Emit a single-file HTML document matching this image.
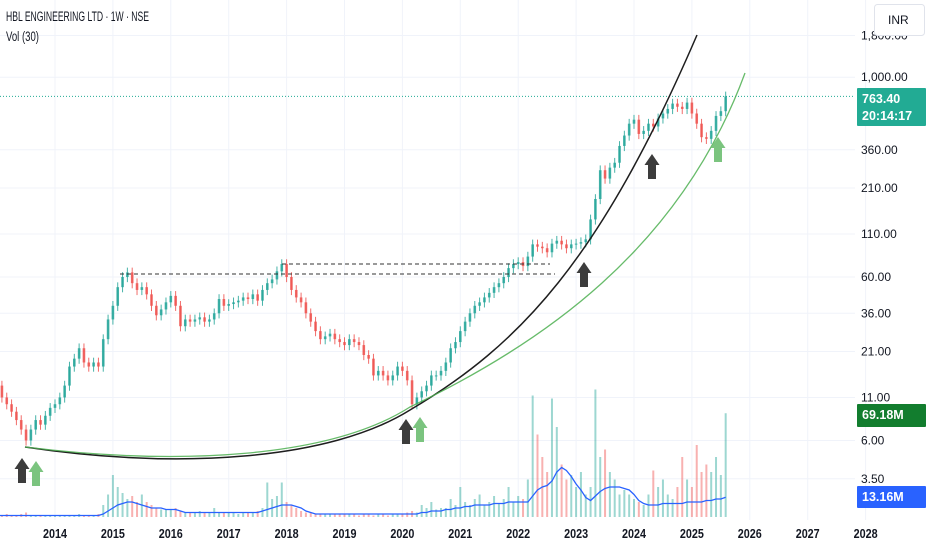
<!DOCTYPE html>
<html><head><meta charset="utf-8">
<style>
html,body{margin:0;padding:0;background:#fff;}
#wrap{position:relative;width:932px;height:550px;overflow:hidden;font-family:"Liberation Sans Narrow","Liberation Sans",sans-serif;}
svg{position:absolute;left:0;top:0;}
</style></head>
<body>
<div id="wrap">
<svg id="chart" width="932" height="550"></svg>
</div>
<script>
// ---- data (monthly, starting Jan 2013) ----
const startYear = 2013;
const closes = [
13,11,10,9,8,7,6,7,8,7.5,8.5,9.5,
10,11,13,17,19,22,18,17,18,17,25,33,
40,52,60,64,55,50,52,47,40,35,38,42,
46,40,30,33,32,33,34,32,33,36,44,40,
41,42,43,45,44,47,43,50,55,58,65,72,
60,50,45,42,36,32,28,25,26,27,25,24,
23,25,24,23,20,19,15,16,15,14,15,17,
16,14,10,11,12,13,15,15,16,18,22,24,
28,32,36,40,42,45,48,52,55,60,68,72,
74,70,80,95,92,90,85,96,100,95,90,95,
96,98,102,135,180,270,240,280,300,380,440,520,
550,450,470,520,500,560,600,640,690,660,640,700,
600,520,430,420,470,580,620,763.4];
const volumes = [
1,1,2,1,1,2,3,1,1,1,1,1,
1,1,1,1,1,2,1,1,1,2,8,15,
28,20,16,12,14,10,15,10,8,6,5,5,
5,6,4,3,3,3,4,3,3,6,3,3,
3,3,2,3,3,3,4,6,23,12,14,23,
10,8,6,4,3,3,2,2,2,2,2,2,
2,2,2,1,2,2,1,2,2,1,2,2,
2,3,4,3,8,6,10,5,6,6,12,8,
20,10,8,12,15,8,10,14,9,12,20,10,
14,12,25,81,55,40,30,79,60,35,25,28,
20,30,15,20,85,40,45,30,25,15,18,15,
12,10,8,15,31,20,25,15,12,20,40,25,
20,48,30,35,30,40,28,69.18];
const volMA = [
1,1,1,1,1,1,1,1,1,1,1,1,
1,1,1,1,1,1,1,1,1,1,2,4,
6,8,9,10,10,9,8,7,6,6,6,5,
5,5,4,3,3,3,3,3,3,3,3,3,
3,3,3,3,3,3,3,4,5,6,7,8,
8,8,7,6,4,3,2,2,2,2,2,2,
2,2,2,2,2,2,2,2,2,2,2,2,
2,2,2,2,3,3,4,4,4,5,5,6,
6,7,7,8,8,8,8,9,9,9,10,10,
10,10,10,14,18,20,21,24,30,33,31,27,
22,18,13,11,14,17,19,20,20,20,19,18,
15,11,9,8,8,8,9,9,9,9,9,10,
10,10,10,11,11,12,12,13.16];
const priceTicks = [1800,1000,360,210,110,60,36,21,11,6,3.5];
const priceTickLabels = ["1,800.00","1,000.00","360.00","210.00","110.00","60.00","36.00","21.00","11.00","6.00","3.50"];
const years = [2014,2015,2016,2017,2018,2019,2020,2021,2022,2023,2024,2025,2026,2027,2028];

// ---- axes ----
const NS="http://www.w3.org/2000/svg";
const svg=document.getElementById('chart');
function xOf(t){return 55+(t-2014)*57.9;}
function yOf(p){return 277-71*Math.log(p/60);}
const volBase=517, volScale=1.5;
function yVol(v){return volBase-v*volScale;}
function mk(tag,attrs,parent){const e=document.createElementNS(NS,tag);for(const k in attrs)e.setAttribute(k,attrs[k]);(parent||svg).appendChild(e);return e;}

// grid
const grid=mk('g',{});


priceTicks.forEach(p=>{mk('line',{x1:0,x2:855,y1:yOf(p),y2:yOf(p),stroke:'#f0f3fa','stroke-width':1},grid);});
years.forEach(y=>{mk('line',{x1:xOf(y),x2:xOf(y),y1:0,y2:520,stroke:'#f0f3fa','stroke-width':1},grid);});

// volume bars
const vg=mk('g',{});


volumes.forEach((v,i)=>{
  const t=startYear+i/12, x=xOf(t);
  const up=i===0||closes[i]>=closes[i-1];
  const r=mk('rect',{x:x-1,y:yVol(v),width:2,height:v*volScale,fill:up?'#26a69a':'#ef5350',opacity:0.45},vg);
  
  
});
// volume MA
let d='';
volMA.forEach((v,i)=>{d+=(i?'L':'M')+xOf(startYear+i/12).toFixed(1)+','+yVol(v).toFixed(1);});
const ma=mk('path',{d:d,fill:'none',stroke:'#2962ff','stroke-width':1.3});



// candles
const cg=mk('g',{});


closes.forEach((c,i)=>{
  const o=i?closes[i-1]:c*1.05;
  const x=xOf(startYear+i/12);
  const up=c>=o, col=up?'#26a69a':'#ef5350';
  const hi=Math.max(o,c)*1.07, lo=Math.min(o,c)*0.93;
  const w=mk('line',{x1:x,x2:x,y1:yOf(hi),y2:yOf(lo),stroke:col,'stroke-width':1,opacity:0.85},cg);
  
  
  const yt=yOf(Math.max(o,c)), yb=yOf(Math.min(o,c));
  const b=mk('rect',{x:x-1.3,y:yt,width:2.6,height:Math.max(1,yb-yt),fill:col,opacity:0.85},cg);
  
  
});

// current price line
const lastY=yOf(closes[closes.length-1]);
const pl=mk('line',{x1:0,x2:855,y1:lastY,y2:lastY,stroke:'#22ab94','stroke-width':1,'stroke-dasharray':'1,2'});



// drawings: dashed resistance lines
const d1=mk('line',{x1:120,x2:555,y1:274,y2:274,stroke:'#333','stroke-width':1,'stroke-dasharray':'4,3'});


const d2=mk('line',{x1:282,x2:550,y1:264,y2:264,stroke:'#333','stroke-width':1,'stroke-dasharray':'4,3'});



// curves
const bc=mk('path',{d:'M25,447 C180,470 330,460 410,410 C520,345 600,260 697,35',fill:'none',stroke:'#1e1e1e','stroke-width':1.5});


const gc=mk('path',{d:'M25,447 C180,466 330,458 410,407 C540,345 680,250 745,73',fill:'none',stroke:'#4caf50','stroke-width':1.3,opacity:0.85});



// arrows
function arrow(cx,top,col,name){
  const p=mk('path',{d:`M${cx},${top} L${cx+7.5},${top+11} L${cx+4},${top+11} L${cx+4},${top+25} L${cx-4},${top+25} L${cx-4},${top+11} L${cx-7.5},${top+11} Z`,fill:col});
  
  
}
arrow(22,458,'#3c3c3c','arrow-dark-2013');
arrow(36,461,'#7bc47f','arrow-green-2013');
arrow(406,419,'#3c3c3c','arrow-dark-2020');
arrow(420,417,'#7bc47f','arrow-green-2020');
arrow(584,262,'#3c3c3c','arrow-dark-2023');
arrow(652,154,'#3c3c3c','arrow-dark-2024');
arrow(718,137,'#7bc47f','arrow-green-2025');

// price axis labels
const ag=mk('g',{});


priceTicks.forEach((p,i)=>{
  const t=mk('text',{x:861,y:yOf(p)+4,'font-size':12,fill:'#131722'},ag);
  t.textContent=priceTickLabels[i];
  
  
});
// time axis labels
const tg=mk('g',{});


years.forEach(y=>{
  const t=mk('text',{x:xOf(y),y:538,'font-size':12.5,fill:'#131722','text-anchor':'middle','font-weight':'bold',textLength:24,lengthAdjust:'spacingAndGlyphs'},tg);
  t.textContent=y;
  
  
});

// price badges
function badge(y,h,col,lines,name){
  const g=mk('g',{});
  
  
  mk('rect',{x:857,y:y,width:69,height:h,fill:col,rx:1},g);
  lines.forEach((s,i)=>{const t=mk('text',{x:862,y:y+15+i*17,'font-size':12.5,fill:'#fff','font-weight':'bold'},g);t.textContent=s;});
}
badge(88,38,'#22ab94',['763.40','20:14:17'],'last-price-badge');
badge(404,23,'#127d2e',['69.18M'],'volume-badge');
badge(486,22,'#2962ff',['13.16M'],'volume-ma-badge');

// currency box
const cb=mk('g',{});


mk('rect',{x:874.5,y:4.5,width:50,height:31,fill:'#fff',stroke:'#e0e3eb',rx:3},cb);
const ct=mk('text',{x:888,y:24,'font-size':12,fill:'#131722'},cb);ct.textContent='INR';

// titles
const tt=mk('text',{x:6,y:21,'font-size':13.5,fill:'#131722',textLength:143,lengthAdjust:'spacingAndGlyphs'});
tt.textContent='HBL ENGINEERING LTD · 1W · NSE';


const vt=mk('text',{x:6,y:41,'font-size':13.5,fill:'#131722',textLength:33,lengthAdjust:'spacingAndGlyphs'});
vt.textContent='Vol (30)';


</script>
</body></html>
